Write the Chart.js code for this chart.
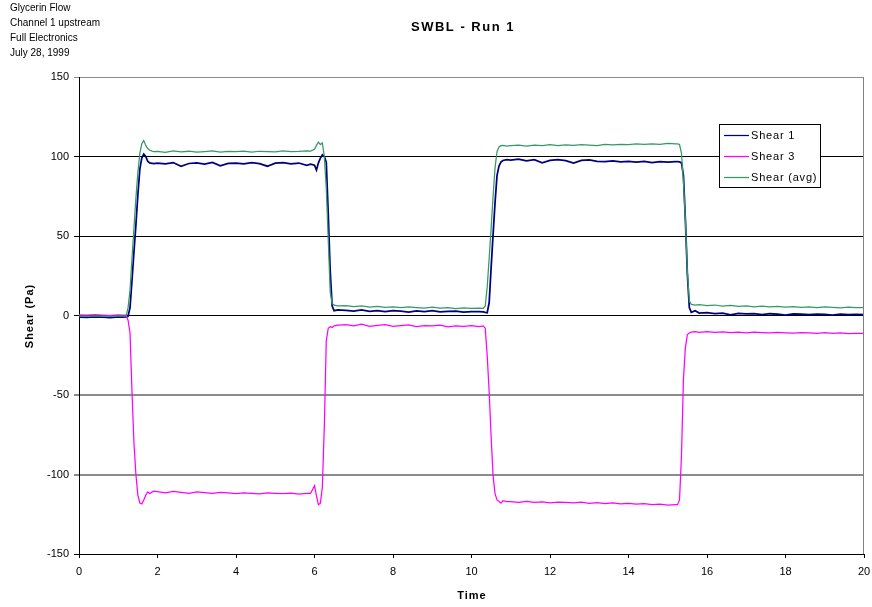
<!DOCTYPE html>
<html>
<head>
<meta charset="utf-8">
<title>SWBL - Run 1</title>
<script src="https://cdn.jsdelivr.net/npm/chart.js@4.4.1/dist/chart.umd.min.js"></script>
<style>
  html, body { margin: 0; padding: 0; background: #fff; }
  #wrap { width: 872px; height: 607px; }
</style>
</head>
<body>
<div id="wrap"><canvas id="shearChart" width="872" height="607"></canvas></div>
<script>
// header notes + labels
const notes = ['Glycerin Flow', 'Channel 1 upstream', 'Full Electronics', 'July 28, 1999'];
const chartTitle = 'SWBL - Run 1';
const seriesNames = ['Shear 1', 'Shear 3', 'Shear (avg)'];

// time (s)
const time = [
  0, 0.2, 0.4, 0.6, 0.8, 1.0, 1.1, 1.2,
  1.25, 1.3, 1.35, 1.4, 1.45, 1.5, 1.55, 1.6, 1.65, 1.7, 1.75, 1.8, 1.9,
  2.0, 2.2, 2.4, 2.6, 2.8, 3.0, 3.2, 3.4, 3.6, 3.8, 4.0, 4.2, 4.4, 4.6, 4.8, 5.0, 5.2, 5.4, 5.6, 5.8,
  5.9, 6.0, 6.05, 6.1, 6.15, 6.2, 6.25, 6.3, 6.35, 6.4, 6.45, 6.5, 6.6,
  6.8, 7.0, 7.2, 7.4, 7.6, 7.8, 8.0, 8.2, 8.4, 8.6, 8.8, 9.0, 9.2, 9.4, 9.6, 9.8, 10.0, 10.2,
  10.3, 10.35, 10.4, 10.45, 10.5, 10.55, 10.6, 10.65, 10.7, 10.75, 10.8, 10.9,
  11.0, 11.2, 11.4, 11.6, 11.8, 12.0, 12.2, 12.4, 12.6, 12.8, 13.0, 13.2, 13.4, 13.6, 13.8, 14.0, 14.2, 14.4, 14.6, 14.8, 15.0, 15.2,
  15.25, 15.3, 15.35, 15.4, 15.45, 15.5, 15.55, 15.6, 15.7, 15.8,
  16.0, 16.2, 16.4, 16.6, 16.8, 17.0, 17.2, 17.4, 17.6, 17.8, 18.0, 18.2, 18.4, 18.6, 18.8, 19.0, 19.2, 19.4, 19.6, 19.8, 20.0
];

const shear1 = [
  -1.0, -1.2, -0.8, -1.0, -1.3, -0.9, -1.0, -0.8,
  -0.5, 5, 22, 40, 57, 76, 92, 99, 101.5, 100, 97, 96, 95.5,
  95.8, 95.4, 96.2, 93.8, 95.6, 96.0, 95.2, 96.3, 94.1, 95.7, 95.9, 95.3, 96.1, 95.5, 93.9, 95.8, 96.2, 95.4, 95.9, 94.5,
  95.2, 94.5, 91.5, 96, 99, 101, 100, 96.5, 64, 28, 6, 3, 3.5,
  3.2, 2.8, 3.5, 2.6, 3.0, 2.4, 3.1, 2.7, 2.2, 2.9, 2.5, 3.0, 2.3, 2.6, 2.8, 2.1, 2.5, 2.4,
  2.3, 2.0, 1.8, 8, 30, 51, 71, 88, 94, 96.5, 97.5, 98,
  97.8, 98.4, 97.2, 98.0, 96.0, 97.6, 98.1, 97.4, 95.8, 97.5, 97.9, 97.0, 96.8, 97.3, 96.6, 97.0, 96.5, 96.9, 96.2, 96.7, 96.4, 96.8,
  96.8, 96.6, 96, 88, 60, 26, 5, 2, 3, 1.5,
  1.8, 1.2, 1.5, 0.4, 1.3, 1.0, 1.2, 0.6, 1.1, 0.9, 0.2, 1.0, 0.8, 0.5, 0.9, 0.7, 0.3, 0.8, 0.6, 0.7, 0.5
];

const shear3 = [
  0.4, 0.2, 0.5, 0.3, 0.1, 0.4, 0.3, 0.2,
  -3, -11, -48, -80, -100, -113, -118, -118.5, -116, -113, -111, -112, -110.5,
  -110.8, -111.5, -110.6, -111.2, -111.8, -111.0, -111.4, -111.9, -111.3, -111.6, -112.0, -111.5, -111.8, -112.2, -111.6, -111.9, -112.1, -111.7, -112.3, -111.8,
  -111.9, -107, -113.5, -119, -118, -108, -70, -16, -8, -7, -7.5, -6.5, -6,
  -5.8, -6.5, -5.5, -6.9, -6.2, -5.7, -6.8, -6.4, -5.9, -7.0, -6.3, -6.6, -6.0, -7.1, -6.5, -6.8, -6.3, -7.0,
  -6.5, -8, -25, -48, -76, -101, -112, -116, -116.8, -118, -116.5, -117,
  -117.0, -117.6, -116.9, -117.5, -117.2, -117.8, -117.3, -117.6, -117.9, -117.4, -118.1, -117.7, -118.3, -117.9, -118.5, -118.1, -118.7, -118.3, -119.0, -118.6, -119.3, -118.9,
  -119, -116, -88, -40, -20, -12, -11, -10.5, -10.2, -10.6,
  -10.2, -10.6, -10.3, -10.8, -10.5, -10.9, -10.4, -10.7, -11.0, -10.6, -10.9, -11.1, -10.7, -11.0, -11.2, -10.8, -11.3, -11.0, -11.4, -11.2, -11.3
];

const shearAvg = [
  -0.3, -0.5, -0.2, -0.4, -0.6, -0.3, -0.4, -0.2,
  5, 16, 36, 55, 74, 90, 102, 108, 110, 107, 105, 104, 103,
  103.2, 102.6, 103.5, 102.9, 103.3, 102.7, 103.1, 103.6, 102.8, 103.2, 103.0, 103.4, 102.7, 103.3, 103.1, 102.9, 103.5, 103.0, 103.2, 103.6,
  103.4, 104.5, 107, 109, 107.5, 108.5, 100, 80, 48, 15, 7.5, 6.5, 6,
  6.2, 5.6, 6.0, 5.3, 5.8, 5.1, 5.5, 4.9, 5.4, 5.0, 4.6, 5.2, 4.7, 4.9, 4.4, 4.8, 4.5, 4.6,
  4.5, 6, 18, 36, 55, 75, 93, 103, 106, 106.8, 107, 106.6,
  106.8, 107.2, 106.6, 107.1, 106.9, 107.4, 106.8, 107.3, 107.0, 107.5, 107.2, 106.9, 107.6, 107.3, 107.7, 107.4, 107.9, 107.6, 108.0, 107.7, 108.2, 107.9,
  108, 107.5, 102, 84, 60, 27, 9, 7, 6.5, 6.8,
  6.2, 6.6, 5.9, 6.3, 5.7, 6.1, 5.5, 5.9, 5.4, 5.8, 5.3, 5.6, 5.1, 5.5, 5.0, 5.4, 5.1, 4.8, 5.2, 4.9, 5.0
];

const FONT = '"Liberation Sans", Arial, sans-serif';

function pts(ys) {
  return time.map((t, i) => ({ x: t, y: ys[i] }));
}

// title, notes, axis titles, legend box and right edge
const decor = {
  id: 'decor',
  afterDraw(chart) {
    const ctx = chart.ctx;
    const a = chart.chartArea;
    ctx.save();

    ctx.strokeStyle = '#808080';
    ctx.lineWidth = 1;
    ctx.beginPath();
    ctx.moveTo(Math.round(a.right) - 0.5, a.top);
    ctx.lineTo(Math.round(a.right) - 0.5, a.bottom);
    ctx.stroke();

    ctx.fillStyle = '#000';
    ctx.textBaseline = 'middle';
    ctx.textAlign = 'left';
    ctx.font = '10px ' + FONT;
    notes.forEach((t, i) => ctx.fillText(t, 10, 8.5 + i * 15));

    ctx.textAlign = 'center';
    ctx.font = 'bold 13px ' + FONT;
    ctx.letterSpacing = '1.5px';
    ctx.fillText(chartTitle, 463, 27);

    ctx.font = 'bold 11px ' + FONT;
    ctx.letterSpacing = '1px';
    ctx.fillText('Time', 472, 596);

    ctx.save();
    ctx.translate(30, 316);
    ctx.rotate(-Math.PI / 2);
    ctx.fillText('Shear (Pa)', 0, 0);
    ctx.restore();

    // legend
    ctx.letterSpacing = '0.8px';
    ctx.fillStyle = '#fff';
    ctx.fillRect(719.5, 124.5, 101, 63);
    ctx.strokeStyle = '#000';
    ctx.lineWidth = 1;
    ctx.strokeRect(719.5, 124.5, 101, 63);
    ctx.textAlign = 'left';
    ctx.font = '11px ' + FONT;
    const ds = chart.data.datasets;
    [0, 1, 2].forEach((k, i) => {
      const y = 135.5 + i * 21;
      ctx.strokeStyle = ds[k].borderColor;
      ctx.lineWidth = 1.25;
      ctx.beginPath();
      ctx.moveTo(724, y);
      ctx.lineTo(749, y);
      ctx.stroke();
      ctx.fillStyle = '#000';
      ctx.fillText(ds[k].label, 751, y + 0.5);
    });
    ctx.restore();
  }
};

function gridColor(c) {
  const v = c.tick ? c.tick.value : 0;
  if (v === 150 || (v < 0 && v > -150)) return '#8c8c8c';
  return '#000';
}
function gridWidth(c) {
  const v = c.tick ? c.tick.value : 0;
  return (v < 0 && v > -150) ? 2 : 1;
}

new Chart(document.getElementById('shearChart').getContext('2d'), {
  type: 'line',
  data: {
    datasets: [
      { label: seriesNames[0], data: pts(shear1), borderColor: '#000080', borderWidth: 1.75, order: 2 },
      { label: seriesNames[1], data: pts(shear3), borderColor: '#ff00ff', borderWidth: 1.25, order: 1 },
      { label: seriesNames[2], data: pts(shearAvg), borderColor: '#339966', borderWidth: 1.25, order: 0 }
    ]
  },
  options: {
    responsive: false,
    devicePixelRatio: 1,
    animation: false,
    layout: { padding: { top: 77, right: 8, left: 0, bottom: 0 } },
    elements: {
      point: { radius: 0 },
      line: { tension: 0, fill: false }
    },
    plugins: {
      legend: { display: false },
      title: { display: false },
      tooltip: { enabled: false }
    },
    scales: {
      x: {
        type: 'linear',
        min: 0,
        max: 20,
        ticks: { stepSize: 2, color: '#000', padding: 7, font: { family: FONT, size: 11 } },
        grid: { drawOnChartArea: false, drawTicks: true, tickLength: 4, color: '#000' },
        border: { color: '#000', width: 1 },
        afterFit(s) { s.height = 53; s.paddingLeft = 0; s.paddingRight = 0; }
      },
      y: {
        min: -150,
        max: 150,
        ticks: { stepSize: 50, color: '#000', padding: 5, font: { family: FONT, size: 11 } },
        grid: { color: gridColor, lineWidth: gridWidth, tickLength: 5 },
        border: { color: '#000', width: 1 },
        afterFit(s) { s.width = 79; s.paddingTop = 0; s.paddingBottom = 0; }
      }
    }
  },
  plugins: [decor]
});
</script>
</body>
</html>
